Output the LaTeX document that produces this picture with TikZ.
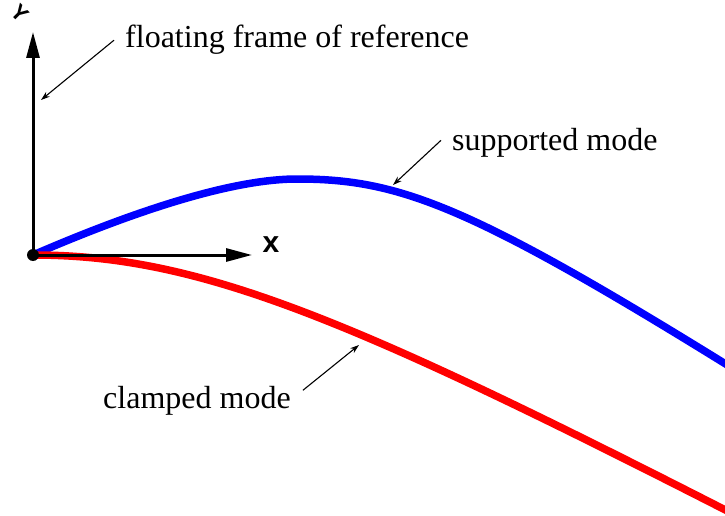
\documentclass[tikz,border=0pt]{standalone}
\usepackage{fontspec}
\setmainfont{Liberation Serif}
\setsansfont{Liberation Sans}
\usetikzlibrary{arrows.meta}

\begin{document}
\begin{tikzpicture}[x=1pt, y=-1pt,
    axis/.style={line width=3pt, -{Triangle[length=26pt,width=13pt]}},
    leader/.style={line width=1.1pt, -{Stealth[length=9pt,width=6pt]}},
    lbl/.style={anchor=base west, inner sep=0pt, font=\fontsize{32}{38}\selectfont},
    axlbl/.style={inner sep=0pt, font=\sffamily\bfseries\fontsize{30}{34}\selectfont},
    mode/.style={line width=7.5pt}]
  \useasboundingbox (0,0) rectangle (725,516);
  \clip (0,0) rectangle (725,516);

  % Frame points
  \coordinate (O) at (33,255);
  \coordinate (xend) at (252,255);
  \coordinate (yend) at (33,32);

  % Supported mode (blue): peak near x=297, then falls off the right edge
  \draw[mode, blue] (O) .. controls (130,213) and (230,179) .. (297,179)
    .. controls (400,179) and (470,205) .. (745,376);
  % Clamped mode (red): leaves the origin flat, then drops off
  \draw[mode, red] (O) .. controls (200,255) and (350,318) .. (745,520);

  % Floating frame axes
  \draw[axis] (O) -- (xend);
  \draw[axis] (O) -- (yend);
  \fill (O) circle (6pt);
  \node[axlbl] (xlbl) at (271,245) {x};
  \node[axlbl, rotate=-45, font=\sffamily\bfseries\fontsize{22}{26}\selectfont] (ylbl) at (20,13) {Y};

  % Labels
  \node[lbl] (floatlbl) at (125,48) {floating frame of reference};
  \node[lbl] (suplbl) at (452,150) {supported mode};
  \node[lbl] (clamplbl) at (103,408) {clamped mode};

  % Leader arrows
  \coordinate (floattip) at (41,100);
  \coordinate (suptip) at (393,185);
  \coordinate (clamptip) at (359,345);
  \draw[leader] (floatlbl.west) ++(-11,0) -- (floattip);
  \draw[leader] (suplbl.west) ++(-11,-2) -- (suptip);
  \draw[leader] (clamplbl.east) ++(12,-10) -- (clamptip);
\end{tikzpicture}
\end{document}
